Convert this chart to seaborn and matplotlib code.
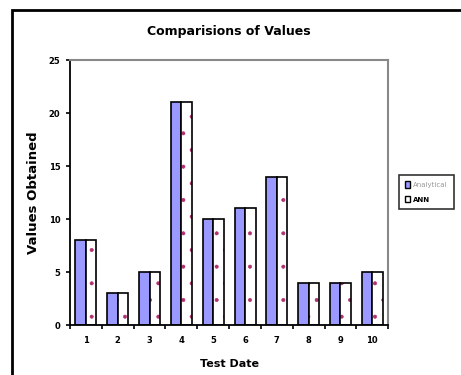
import matplotlib
matplotlib.use("Agg")
import matplotlib.pyplot as plt
import seaborn as sns
import pandas as pd
from matplotlib.patches import Rectangle
from matplotlib.ticker import FixedLocator, NullFormatter

# Test dates and the values obtained by each method
test_dates = ["1", "2", "3", "4", "5", "6", "7", "8", "9", "10"]
analytical = [8, 3, 5, 21, 10, 11, 14, 4, 4, 5]
ann = [8, 3, 5, 21, 10, 11, 14, 4, 4, 5]
series_names = ["Analytical", "ANN"]
y_ticks = [0, 5, 10, 15, 20, 25]

df = pd.DataFrame({
    "date": test_dates * 2,
    "value": analytical + ann,
    "method": [series_names[0]] * len(test_dates) + [series_names[1]] * len(test_dates),
})

sns.set_style("white")
plt.rcParams["font.family"] = ["DejaVu Sans"]
plt.rcParams["text.color"] = "black"
plt.rcParams["axes.labelcolor"] = "black"
plt.rcParams["xtick.color"] = "black"
plt.rcParams["ytick.color"] = "black"
plt.rcParams["hatch.linewidth"] = 0.4

fig = plt.figure(figsize=(4.61, 3.75), dpi=100)
ax = fig.add_axes([0.152, 0.133, 0.690, 0.707])

blue = "#9999FF"
sns.barplot(data=df, x="date", y="value", hue="method", order=test_dates,
            hue_order=series_names, palette=[blue, "white"], width=0.66,
            gap=0, edgecolor="black", linewidth=1.2, saturation=1,
            legend=False, ax=ax)

# ANN bars: sparse dotted fill, then a black outline on top
n = len(test_dates)
ann_patches = ax.patches[n:2 * n]
for p in ann_patches:
    p.set_hatch(".")
    p.set_edgecolor("#B03070")
    p.set_linewidth(0)
    outline = Rectangle(p.get_xy(), p.get_width(), p.get_height(),
                        facecolor="none", edgecolor="black", linewidth=1.2,
                        zorder=p.get_zorder() + 0.1)
    ax.add_patch(outline)

ax.set_ylim(0, 25)
ax.set_xlim(-0.5, n - 0.5)
ax.set_yticks(y_ticks)
ax.set_yticklabels([str(t) for t in y_ticks], fontsize=6, fontweight="bold")
ax.set_xticks(range(n))
ax.set_xticklabels(test_dates, fontsize=6, fontweight="bold")
ax.xaxis.set_minor_locator(FixedLocator([i - 0.5 for i in range(n + 1)]))
ax.xaxis.set_minor_formatter(NullFormatter())
ax.tick_params(axis="x", which="major", length=0, pad=8)
ax.tick_params(axis="x", which="minor", length=3, width=1.2, color="black",
               direction="out", bottom=True)
ax.tick_params(axis="y", length=3, width=1.2, color="black", direction="out",
               left=True, pad=4)

for side in ["left", "bottom"]:
    ax.spines[side].set_color("black")
    ax.spines[side].set_linewidth(1.3)
for side in ["top", "right"]:
    ax.spines[side].set_color("#888888")
    ax.spines[side].set_linewidth(1.5)

ax.set_xlabel("Test Date", fontsize=8, fontweight="bold", labelpad=10)
ax.set_ylabel("Values Obtained", fontsize=9.5, fontweight="bold", labelpad=6)
ax.set_title("Comparisions of Values", fontsize=9, fontweight="bold", pad=18)

# Legend
handles = [Rectangle((0, 0), 1, 1, facecolor=blue, edgecolor="black", linewidth=1),
           Rectangle((0, 0), 1, 1, facecolor="white", edgecolor="black", linewidth=1)]
leg = fig.legend(handles, series_names, loc="center left",
                 bbox_to_anchor=(0.857, 0.488), fontsize=5, frameon=True,
                 fancybox=False, edgecolor="black", handlelength=0.7,
                 handleheight=1.0, handletextpad=0.5, borderpad=0.9,
                 labelspacing=1.2)
leg.get_frame().set_linewidth(1.2)
texts = leg.get_texts()
texts[0].set_color("#999999")
texts[1].set_fontweight("bold")

# Chart area border
fig.add_artist(Rectangle((0.026, -0.1), 1.2, 1.073, transform=fig.transFigure,
                         facecolor="none", edgecolor="black", linewidth=2))

fig.savefig("out.png", dpi=100)
